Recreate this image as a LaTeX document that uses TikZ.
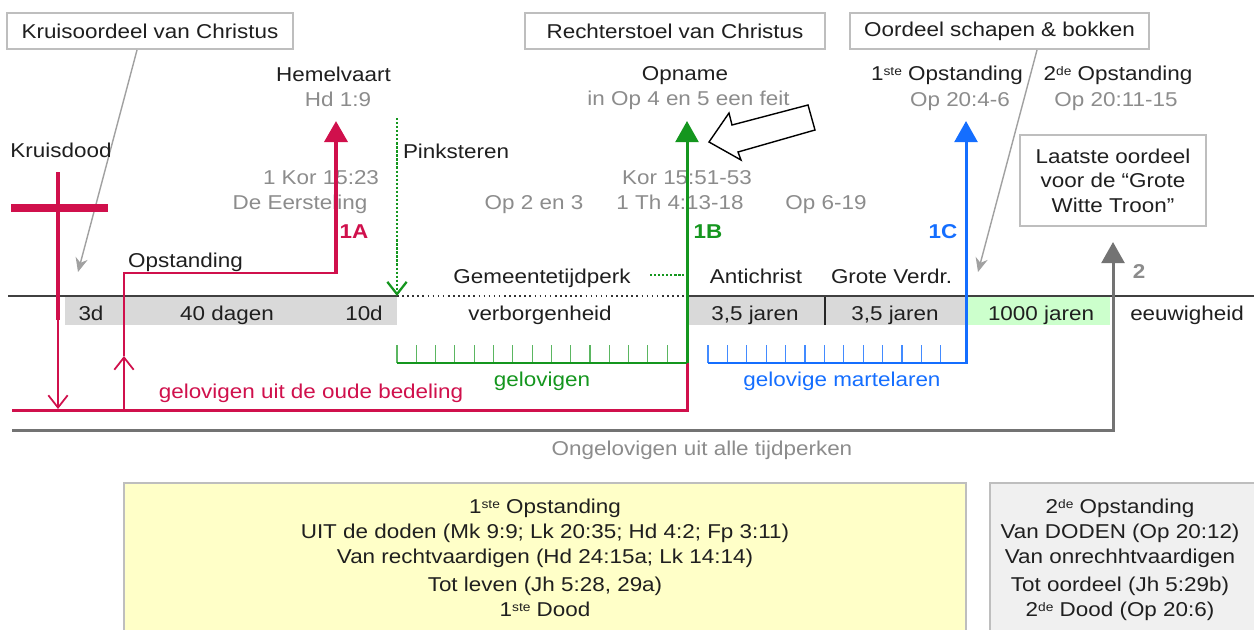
\documentclass[tikz,border=0pt]{standalone}
\usepackage{fontspec}
\setmainfont[FakeStretch=1.12]{Liberation Sans}
\usetikzlibrary{arrows.meta}
\definecolor{kruisrood}{RGB}{208,16,76}
\definecolor{gemgroen}{RGB}{20,150,30}
\definecolor{martblauw}{RGB}{20,110,255}
\definecolor{verwgrijs}{RGB}{140,140,140}
\definecolor{bandgrijs}{RGB}{217,217,217}
\definecolor{bandgroen}{RGB}{204,255,204}
\definecolor{kadergrijs}{RGB}{190,190,190}
\definecolor{vakgeel}{RGB}{255,255,200}
\definecolor{vakgrijs}{RGB}{240,240,240}
\begin{document}
\begin{tikzpicture}[x=0.02cm, y=-0.02cm, font=\fontsize{11.4}{14}\selectfont,
  lbl/.style={anchor=base, inner sep=0pt, text=black!88},
  ref/.style={anchor=base, inner sep=0pt, text=verwgrijs},
  tag/.style={anchor=base, inner sep=0pt, font=\fontsize{11.4}{14}\selectfont\bfseries},
  kader/.style={draw=kadergrijs, line width=1.2pt, fill=white, inner sep=0pt, text=black!88},
  wijzer/.style={draw=kadergrijs!85!black, line width=0.8pt, -{Stealth[length=8pt,width=7pt]}},
  kop/.style={-{Triangle[length=12pt,width=13pt]}},
  haak/.style={-{Straight Barb[length=7pt,width=11pt]}}]
\useasboundingbox (0,0) rectangle (1254,629);
\clip (0,0) rectangle (1254,629);
\fill[white] (0,0) rectangle (1254,629);
\fill[bandgrijs] (65,297) rectangle (397,325);
\fill[bandgrijs] (687,297) rectangle (968,325);
\fill[bandgroen] (968,297) rectangle (1110,325);
\draw[black!85, line width=1pt] (825,296) -- (825,325);
\draw[black!75, line width=1.1pt] (8,296) -- (397,296) (687,296) -- (1254,296);
\draw[black!80, line width=0.9pt, dotted] (397,296) -- (687,296);
\foreach \t/\x [count=\i] in {3d/91, 40 dagen/227, 10d/364, verborgenheid/540, {3,5 jaren}/755, {3,5 jaren}/895, 1000 jaren/1041, eeuwigheid/1187}
  \node[lbl] (band\i) at (\x,320) {\t};
\node[kader, minimum width=5.72cm, minimum height=0.72cm] (kruisoordeel) at (150,31) {Kruisoordeel van Christus};
\node[kader, minimum width=6cm, minimum height=0.72cm] (rechterstoel) at (675,31) {Rechterstoel van Christus};
\node[kader, minimum width=5.98cm, minimum height=0.72cm] (schapen) at (999.5,31) {Oordeel schapen \& bokken};
\node[kader, minimum width=3.72cm, minimum height=1.82cm, align=center] (laatste) at (1113,180.5) {Laatste oordeel\\voor de “Grote\\Witte Troon”};
\coordinate (kruispunt) at (78,272);
\coordinate (schapenpunt) at (978,272);
\draw[wijzer] ([xshift=-0.26cm]kruisoordeel.south) -- (kruispunt);
\draw[wijzer] ([xshift=0.75cm]schapen.south) -- (schapenpunt);
\node[lbl] (hemelvaart) at (333.5,81) {Hemelvaart};
\node[ref] (hd19) at (338,106) {Hd 1:9};
\node[lbl] (opname) at (685,80) {Opname};
\node[ref] (opfeit) at (688.5,105) {in Op 4 en 5 een feit};
\node[lbl] (opst1) at (947,80) {1{\scriptsize\raisebox{0.7ex}{ste}} Opstanding};
\node[ref] (op2046) at (960,106) {Op 20:4-6};
\node[lbl] (opst2) at (1118,80) {2{\scriptsize\raisebox{0.7ex}{de}} Opstanding};
\node[ref] (op2011) at (1116,106) {Op 20:11-15};
\node[lbl] (kruisdood) at (61,157) {Kruisdood};
\node[lbl] (pinksteren) at (456,158) {Pinksteren};
\node[ref] (kor1523) at (321,184) {1 Kor 15:23};
\node[ref] (eersteling) at (300,209) {De Eersteling};
\node[ref] (kor1551) at (687,184) {Kor 15:51-53};
\node[ref] (op23) at (534,209) {Op 2 en 3};
\node[ref] (th413) at (680,209) {1 Th 4:13-18};
\node[ref] (op619) at (826,209) {Op 6-19};
\node[tag, text=kruisrood] (n1a) at (354,238) {1A};
\node[tag, text=gemgroen] (n1b) at (708,238) {1B};
\node[tag, text=martblauw] (n1c) at (943,238) {1C};
\node[tag, text=verwgrijs] (n2) at (1139,278) {2};
\node[lbl] (opstanding) at (185.5,267) {Opstanding};
\node[lbl] (gemeente) at (542,283) {Gemeentetijdperk};
\node[lbl] (antichrist) at (756,283) {Antichrist};
\node[lbl] (verdr) at (891.5,283) {Grote Verdr.};
\node[lbl, text=kruisrood] (oude) at (311,398) {gelovigen uit de oude bedeling};
\node[lbl, text=gemgroen] (gelovigen) at (542,386) {gelovigen};
\node[lbl, text=martblauw] (martelaren) at (842,386) {gelovige martelaren};
\node[ref] (ongelovigen) at (702,455) {Ongelovigen uit alle tijdperken};
\draw[kruisrood, line width=2.8pt] (58,172) -- (58,320);
\draw[kruisrood, line width=4pt] (11,208) -- (108,208);
\draw[kruisrood, line width=1pt, haak] (58,320) -- (58,409);
\draw[kruisrood, line width=1.7pt] (12,410) -- (687,410) -- (687,363);
\draw[kruisrood, line width=1pt, haak] (124,410) -- (124,356);
\draw[kruisrood, line width=1pt] (124,356) -- (124,273) -- (336,273);
\draw[kruisrood, line width=2.4pt, kop] (336,274) -- (336,121);
\draw[black!55, line width=1.7pt, kop] (12,430) -- (1113,430) -- (1113,242);
\foreach \k in {0,...,14} {
  \pgfmathsetmacro{\x}{397+19.3*\k}
  \draw[gemgroen!70, line width=0.6pt] (\x,345) -- (\x,363);
}
\foreach \k in {0,...,12} {
  \pgfmathsetmacro{\x}{708+19.4*\k}
  \draw[martblauw!80, line width=0.6pt] (\x,345) -- (\x,363);
}
\draw[gemgroen, line width=1.7pt] (397,363) -- (687,363);
\draw[gemgroen, line width=1.7pt, kop] (687,363) -- (687,121);
\draw[gemgroen, line width=1.3pt, densely dotted, haak] (397,118) -- (397,296);
\draw[gemgroen, line width=1.3pt, densely dotted] (650,275) -- (684,275);
\draw[martblauw, line width=1.7pt, kop] (708,363) -- (966,363) -- (966,121);
\draw[line width=0.8pt, fill=white, line join=miter] (709,142) -- (729,113) -- (732,125) -- (808,105) -- (815,130) -- (738,152) -- (741,160) -- cycle;
\draw[draw=kadergrijs, line width=1.2pt, fill=vakgeel] (124,483) rectangle (966,660);
\draw[draw=kadergrijs, line width=1.2pt, fill=vakgrijs] (990,483) rectangle (1270,660);
\foreach \t/\y [count=\i] in {{1{\scriptsize\raisebox{0.7ex}{ste}} Opstanding}/513, {UIT de doden (Mk 9:9; Lk 20:35; Hd 4:2; Fp 3:11)}/538, {Van rechtvaardigen (Hd 24:15a; Lk 14:14)}/563, {Tot leven (Jh 5:28, 29a)}/591, {1{\scriptsize\raisebox{0.7ex}{ste}} Dood}/616}
  \node[lbl] (eerste\i) at (545,\y) {\t};
\foreach \t/\y [count=\i] in {{2{\scriptsize\raisebox{0.7ex}{de}} Opstanding}/513, {Van DODEN (Op 20:12)}/538, {Van onrechhtvaardigen}/563, {Tot oordeel (Jh 5:29b)}/591, {2{\scriptsize\raisebox{0.7ex}{de}} Dood (Op 20:6)}/616}
  \node[lbl] (tweede\i) at (1120,\y) {\t};
\end{tikzpicture}
\end{document}
